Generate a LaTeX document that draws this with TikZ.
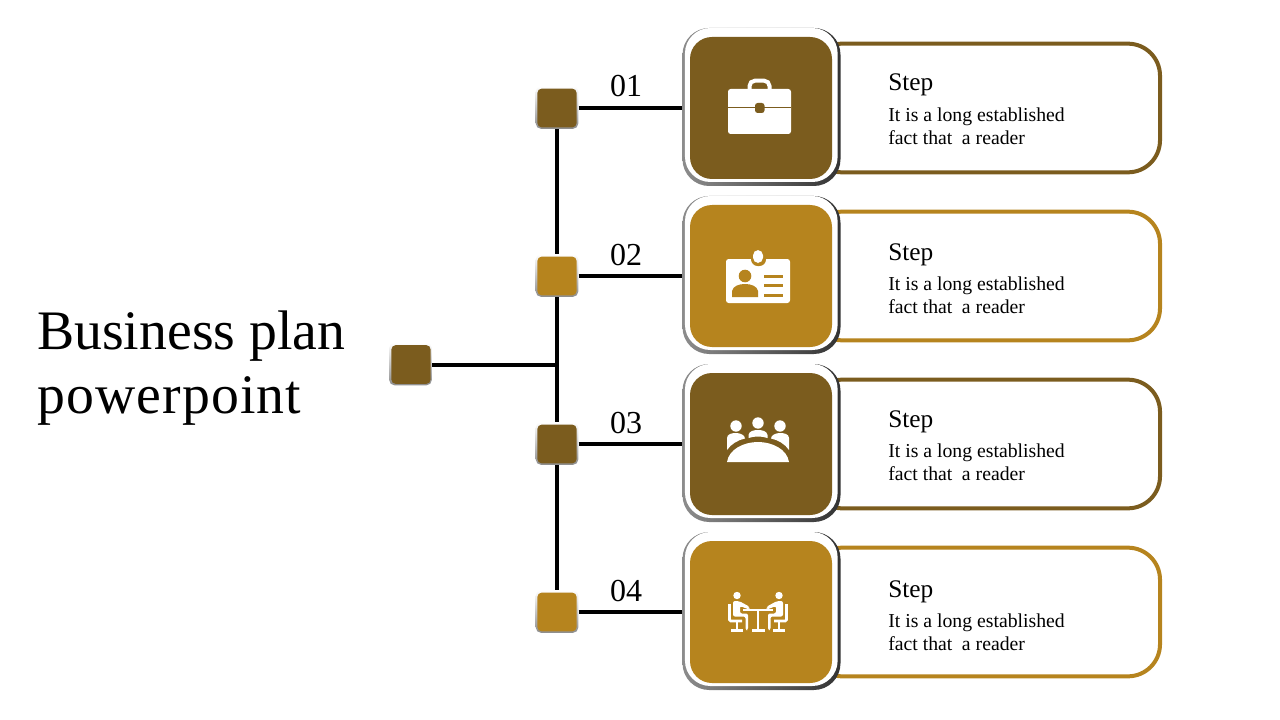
\documentclass[tikz,border=0pt]{standalone}
\usepackage{fontspec}
\setmainfont{Liberation Serif}
\usepackage{xcolor}
\usetikzlibrary{positioning,calc}
\definecolor{planbrown}{HTML}{7B5C1E}
\definecolor{plangold}{HTML}{B6841E}

\begin{document}
\begin{tikzpicture}[
    x=0.75pt, y=-0.75pt,
    stepbox/.style={rectangle, rounded corners=24pt, minimum width=262.5pt, minimum height=96.5pt, inner sep=0pt, draw=#1, line width=3pt, fill=white},
    frameshade/.style={rectangle, rounded corners=20pt, minimum width=118.5pt, minimum height=118.5pt, inner sep=0pt, left color=black!45, middle color=black!20, right color=black!80},
    framewhite/.style={rectangle, rounded corners=19pt, minimum width=114.5pt, minimum height=115.5pt, inner sep=0pt, fill=white},
    tilebox/.style={rectangle, rounded corners=16.5pt, minimum width=106.5pt, minimum height=106.5pt, inner sep=0pt, fill=#1},
    sqshade/.style={rectangle, rounded corners=4pt, minimum width=32pt, minimum height=32pt, inner sep=0pt, top color=white, bottom color=black!45},
    sqbox/.style={rectangle, rounded corners=3.5pt, minimum width=29.6pt, minimum height=29.2pt, inner sep=0pt, fill=#1},
    numlabel/.style={anchor=base, inner sep=0pt, font=\fontsize{24}{28}\selectfont},
    steplabel/.style={anchor=base west, inner sep=0pt, font=\fontsize{19}{22}\selectfont},
    bodylabel/.style={anchor=base west, inner sep=0pt, font=\fontsize{14.8}{17.25}\selectfont},
    titlelabel/.style={anchor=base west, inner sep=0pt, font=\fontsize{41.8}{48}\selectfont},
    trunk/.style={line width=3pt, black},
    iconline/.style={draw=white, line width=2pt}
]
    \useasboundingbox (0,0) rectangle (1280,720);

    \node[titlelabel] (title1) at (37,349) {Business plan};
    \node[titlelabel] (title2) at (37,413) {\addfontfeature{LetterSpace=2}powerpoint};

    % Root square and the bus point
    \node[sqshade] (rootsq) at (410.5,364) {};
    \node[sqbox=planbrown] (roottile) at (411,364.5) {};
    \coordinate (bus) at (557,365);

    % Four rows
    \foreach \nm/\yy/\rowcol/\ys/\yb in {1/108/planbrown/91/121.5, 2/276/plangold/260/290.5, 3/444/planbrown/427/457.5, 4/612/plangold/597/627.5} {
        \node[stepbox=\rowcol] (box\nm) at (985,\yy) {};
        \node[frameshade] (shade\nm) at (761.5,\yy-1) {};
        \node[framewhite] (white\nm) at (761.3,\yy-3) {};
        \node[tilebox=\rowcol] (tile\nm) at (761,\yy) {};
        \node[sqshade] (sqs\nm) at (557,\yy-0.5) {};
        \node[sqbox=\rowcol] (sq\nm) at (557,\yy) {};
        \node[numlabel] (num\nm) at (626,\yy-11) {0\nm};
        \node[steplabel] (step\nm) at (888,\ys) {Step};
        \node[bodylabel] (bodya\nm) at (888,\yb) {It is a long established};
        \node[bodylabel] (bodyb\nm) at (888,\yb+23) {fact that\hspace{3.5pt} a reader};
    }

    % Connectors
    \draw[trunk] (rootsq.east |- bus) -- (bus);
    \draw[trunk] (sqs1) -- (sqs2);
    \draw[trunk] (sqs2) -- (sqs3);
    \draw[trunk] (sqs3) -- (sqs4);
    \foreach \nm in {1,2,3,4} {
        \draw[trunk] (sqs\nm.east |- sq\nm) -- (sq\nm -| shade\nm.west);
    }

    % Briefcase
    \draw[white, line width=3pt, rounded corners=4pt] (749.5,92) -- (749.5,80.7) -- (769.5,80.7) -- (769.5,92);
    \fill[white, rounded corners=2pt] (728,89) rectangle (791,134);
    \draw[planbrown, line width=0.5pt] (728,107) -- (791,107);
    \fill[planbrown, rounded corners=2pt] (755,103) rectangle (764.5,113);

    % Badge
    \fill[white, rounded corners=2pt] (726,259) rectangle (790,303);
    \fill[plangold, rounded corners=5pt] (751,249) rectangle (766,266);
    \fill[white, rounded corners=4pt] (753,250) rectangle (763,263);
    \fill[plangold] (745,276) circle (6.3);
    \fill[plangold] (732,297) -- (732,291) .. controls (733,286) and (739,284) .. (745,284) .. controls (751,284) and (757,286) .. (758,291) -- (758,297) -- cycle;
    \fill[plangold] (764,275) rectangle (783,278);
    \fill[plangold] (764,284) rectangle (783,287);
    \fill[plangold] (764,293.5) rectangle (783,296.5);

    % Meeting table
    \fill[white] (736,426) circle (5.7);
    \fill[white] (758,423) circle (5.7);
    \fill[white] (780,426) circle (5.7);
    \fill[white] (727,462) .. controls (729,449) and (744,442) .. (758,442) .. controls (772,442) and (787,449) .. (789,462) -- cycle;
    \fill[white] (727,450) -- (727,438) .. controls (727,434) and (732,433) .. (736,433) .. controls (740,433) and (745,435) .. (745,438.5) .. controls (738,440) and (731,444) .. (727,450) -- cycle;
    \fill[white] (789,450) -- (789,438) .. controls (789,434) and (784,433) .. (780,433) .. controls (776,433) and (771,435) .. (771,438.5) .. controls (778,440) and (785,444) .. (789,450) -- cycle;
    \fill[white] (748.5,438) -- (748.5,435) .. controls (749,431) and (754,430) .. (758,430) .. controls (762,430) and (767,431) .. (767.5,435) -- (767.5,438) .. controls (762,436) and (754,436) .. (748.5,438) -- cycle;

    % Two people at a table
    \draw[iconline] (743,610) -- (773,610);
    \draw[iconline] (758,610) -- (758,630);
    \draw[iconline] (752,630.5) -- (765,630.5);
    \foreach \flip/\off in {1/0, -1/1516} {
        \begin{scope}[shift={(\off,0)}, xscale=\flip]
            \fill[white] (737,595.5) circle (3.7);
            \fill[white, rounded corners=1.5pt] (733,601) -- (739,601) -- (750,607) -- (749,609.5) -- (740,606) -- (740,613.5) -- (748,613.5) -- (748,630) -- (745.5,630) -- (745.5,616.5) -- (733,616.5) -- cycle;
            \draw[iconline, rounded corners=1pt] (729.5,604) -- (729.5,621) -- (742,621);
            \draw[iconline] (737,621) -- (737,630);
            \draw[iconline] (731,630.5) -- (743,630.5);
        \end{scope}
    }
\end{tikzpicture}
\end{document}
